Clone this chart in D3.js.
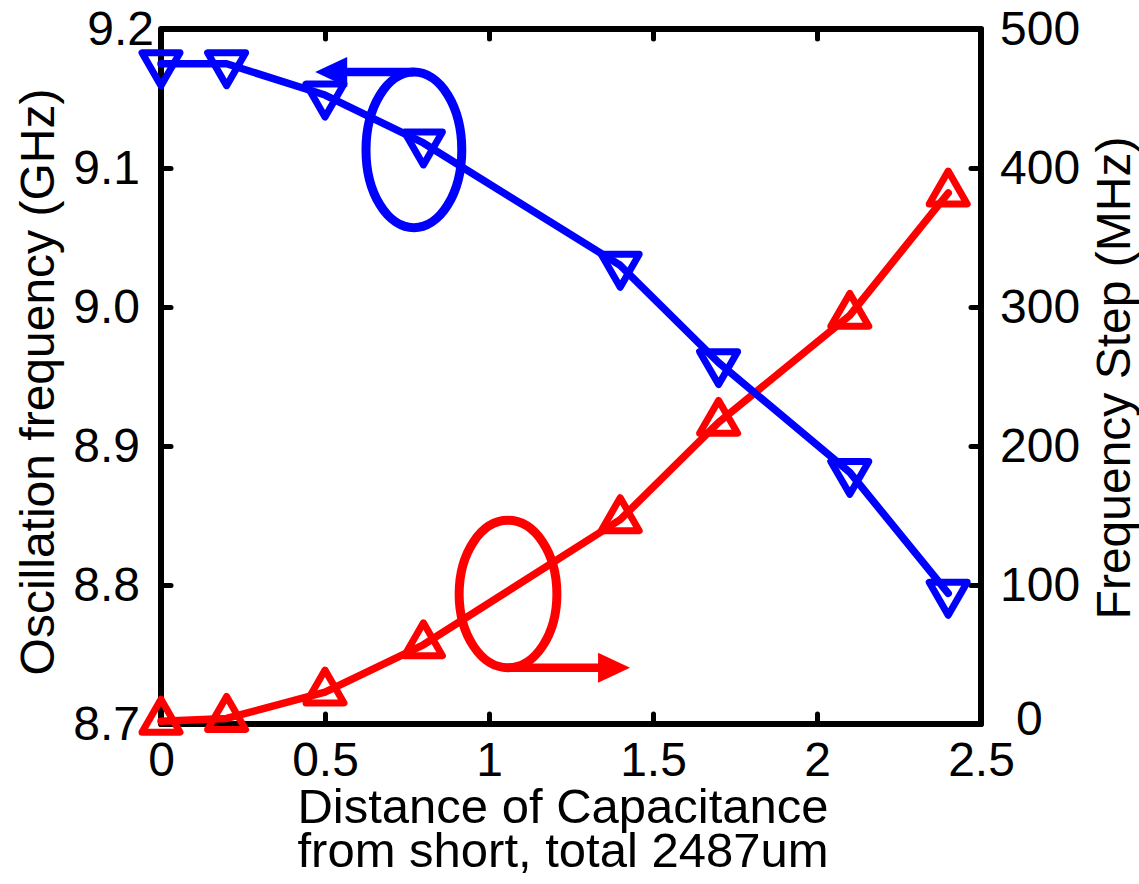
<!DOCTYPE html>
<html>
<head>
<meta charset="utf-8">
<script src="https://cdn.jsdelivr.net/npm/d3@7"></script>
<style>
  html, body { margin: 0; padding: 0; background: #fff; }
  svg { display: block; }
  text { font-family: "Liberation Sans", Arial, Helvetica, sans-serif; fill: #000; }
</style>
</head>
<body>
<svg id="chart" width="1139" height="884"></svg>
<script>
// ---- data ----
const distance = [0, 0.2, 0.5, 0.8, 1.4, 1.7, 2.1, 2.4];               // x (mm)
const oscFreqGHz = [9.175, 9.175, 9.1525, 9.118, 9.030, 8.960, 8.881, 8.794]; // left axis
const freqStepMHz = [2, 4, 23, 57, 147, 217, 294, 382];                 // right axis
const xTicks = [0, 0.5, 1, 1.5, 2, 2.5];
const xTickLabels = ["0", "0.5", "1", "1.5", "2", "2.5"];
const leftTicks = [8.7, 8.8, 8.9, 9.0, 9.1, 9.2];
const leftTickLabels = ["8.7", "8.8", "8.9", "9.0", "9.1", "9.2"];
const rightTicks = [0, 100, 200, 300, 400, 500];
const rightTickLabels = ["0", "100", "200", "300", "400", "500"];
const xTitle = ["Distance of Capacitance", "from short, total 2487um"];
const leftTitle = "Oscillation frequency (GHz)";
const rightTitle = "Frequency Step (MHz)";
// annotation loops (data coordinates)
const blueLoop = { cx: 0.771, cy: 9.113, rx: 0.146, ry: 0.056, tipX: 0.47 };
const redLoop = { cx: 1.058, cy: 93.5, rx: 0.149, ry: 53, tipX: 1.43 };

// ---- layout ----
const X0 = 161, X1 = 981, Y0 = 29, Y1 = 724;
const BLUE = "#0000ff", RED = "#ff0000";
const svg = d3.select("#chart");

const x = d3.scaleLinear().domain([0, 2.5]).range([X0, X1]);
const yL = d3.scaleLinear().domain([8.7, 9.2]).range([Y1, Y0]);
const yR = d3.scaleLinear().domain([0, 500]).range([Y1, Y0]);

const fontTick = 48, fontTitle = 48;

function styleAxis(g) {
  g.select(".domain").remove();
  g.selectAll(".tick line").attr("stroke", "#000").attr("stroke-width", 5).attr("stroke-linecap", "round");
  g.selectAll(".tick text").attr("font-size", fontTick).attr("fill", "#000")
    .style("font-family", '"Liberation Sans", Arial, sans-serif');
}

// bottom
svg.append("g").attr("transform", `translate(0,${Y1})`)
  .call(d3.axisBottom(x).tickValues(xTicks).tickFormat((d, i) => xTickLabels[i])
    .tickSizeInner(-10).tickSizeOuter(0).tickPadding(18))
  .call(styleAxis);
// top
svg.append("g").attr("transform", `translate(0,${Y0})`)
  .call(d3.axisTop(x).tickValues(xTicks).tickFormat("").tickSizeInner(-10).tickSizeOuter(0))
  .call(styleAxis);
// left
const leftAxisG = svg.append("g").attr("transform", `translate(${X0},0)`)
  .call(d3.axisLeft(yL).tickValues(leftTicks).tickFormat((d, i) => leftTickLabels[i])
    .tickSizeInner(-10).tickSizeOuter(0).tickPadding(21))
  .call(styleAxis);
// top label sits a little further right, as in the reference
leftAxisG.selectAll(".tick text").filter(d => d === 9.2).attr("dx", 14);
// right
const rightAxisG = svg.append("g").attr("transform", `translate(${X1},0)`)
  .call(d3.axisRight(yR).tickValues(rightTicks).tickFormat((d, i) => rightTickLabels[i])
    .tickSizeInner(-10).tickSizeOuter(0).tickPadding(19))
  .call(styleAxis);
rightAxisG.selectAll(".tick text").filter(d => d === 0).attr("dx", 16).attr("dy", "0.22em");

// frame
svg.append("rect").attr("x", X0).attr("y", Y0).attr("width", X1 - X0).attr("height", Y1 - Y0)
  .attr("fill", "none").attr("stroke", "#000").attr("stroke-width", 6).attr("stroke-linejoin", "round");

// ---- series ----
const pts = (ys, yScale) => distance.map((d, i) => [x(d), yScale(ys[i])]);
const line = d3.line();

function drawSeries(points, color, rotate) {
  svg.append("path").attr("d", line(points)).attr("fill", "none")
    .attr("stroke", color).attr("stroke-width", 7.5).attr("stroke-linejoin", "round").attr("stroke-linecap", "round");
  const sym = d3.symbol().type(d3.symbolTriangle).size(625);
  svg.append("g").selectAll("path").data(points).join("path")
    .attr("d", sym())
    .attr("transform", d => `translate(${d[0]},${d[1]}) rotate(${rotate})`)
    .attr("fill", "none").attr("stroke", color).attr("stroke-width", 7).attr("stroke-linejoin", "round");
}
drawSeries(pts(freqStepMHz, yR), RED, 0);
drawSeries(pts(oscFreqGHz, yL), BLUE, 180);

// ---- annotations ----
function drawLoop(loop, yScale, color, top) {
  const cx = x(loop.cx), cy = yScale(loop.cy);
  const rx = x(loop.cx + loop.rx) - cx;
  const ry = Math.abs(yScale(loop.cy + loop.ry) - cy);
  svg.append("ellipse").attr("cx", cx).attr("cy", cy).attr("rx", rx).attr("ry", ry)
    .attr("fill", "none").attr("stroke", color).attr("stroke-width", 9);
  const ay = top ? cy - ry : cy + ry;
  const tip = x(loop.tipX);
  const dir = tip < cx ? -1 : 1;
  const headLen = 32, headHalf = 15;
  const base = tip - dir * headLen;
  svg.append("line").attr("x1", cx).attr("y1", ay).attr("x2", base + dir * 2).attr("y2", ay)
    .attr("stroke", color).attr("stroke-width", 8.5);
  svg.append("path")
    .attr("d", `M${tip},${ay} L${base},${ay - headHalf} L${base},${ay + headHalf} Z`)
    .attr("fill", color);
}
drawLoop(blueLoop, yL, BLUE, true);
drawLoop(redLoop, yR, RED, false);

// ---- titles ----
svg.append("text").attr("transform", `translate(563,823)`).attr("text-anchor", "middle")
  .attr("font-size", 49).text(xTitle[0]);
svg.append("text").attr("transform", `translate(563,867)`).attr("text-anchor", "middle")
  .attr("font-size", 49).text(xTitle[1]);
svg.append("text").attr("transform", `translate(54,382) rotate(-90)`).attr("text-anchor", "middle")
  .attr("font-size", fontTitle).text(leftTitle);
svg.append("text").attr("transform", `translate(1130,378) rotate(-90)`).attr("text-anchor", "middle")
  .attr("font-size", fontTitle).text(rightTitle);
</script>
</body>
</html>
